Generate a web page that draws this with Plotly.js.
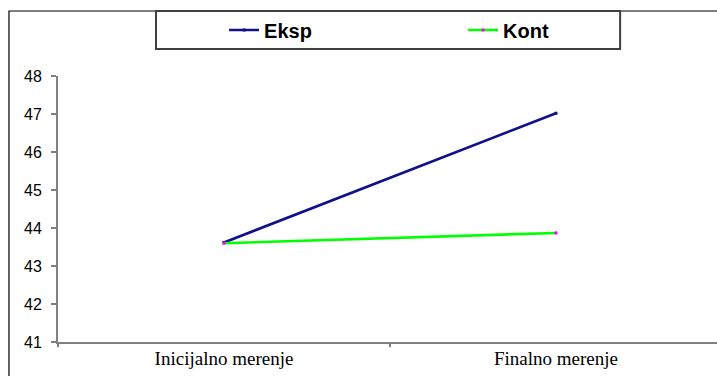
<!DOCTYPE html>
<html>
<head>
<meta charset="utf-8">
<script src="https://cdn.plot.ly/plotly-3.0.1.min.js"></script>
<style>html,body{margin:0;padding:0;background:#fff;}#chart{width:717px;height:376px;}</style>
</head>
<body>
<div id="chart"></div>
<script>
var categories = ["Inicijalno merenje", "Finalno merenje"];
var seriesNames = ["Eksp", "Kont"];
var eksp = [43.62, 47.02];
var kont = [43.6, 43.87];
var yTicks = [41, 42, 43, 44, 45, 46, 47, 48];

var traces = [
  {x: categories, y: eksp, name: seriesNames[0], type: "scatter", mode: "lines+markers",
   line: {color: "#10108a", width: 2.6}, marker: {color: "#10108a", size: 3, symbol: "square"}},
  {x: categories, y: kont, name: seriesNames[1], type: "scatter", mode: "lines+markers",
   line: {color: "#00ff00", width: 2.6}, marker: {color: "#ff00ff", size: 3, symbol: "square"}}
];

var layout = {
  width: 717, height: 376,
  margin: {l: 58, r: 0, t: 76, b: 34},
  paper_bgcolor: "#fff", plot_bgcolor: "#fff",
  showlegend: true,
  legend: {orientation: "h", x: 0.252, xanchor: "left", y: 1.173, yanchor: "middle",
           font: {family: "Liberation Sans, Arial", size: 20, color: "#000", weight: "bold"},
           bgcolor: "rgba(0,0,0,0)", borderwidth: 0, entrywidth: 194, entrywidthmode: "pixels"},
  xaxis: {type: "category", range: [-0.5, 1.485], tickson: "boundaries", ticks: "outside",
          ticklen: 3, tickcolor: "#808080", tickwidth: 2, showline: true, linecolor: "#808080",
          linewidth: 2, showgrid: false, zeroline: false, fixedrange: true, ticklabelstandoff: -2,
          tickfont: {family: "Liberation Serif, Times New Roman", size: 19, color: "#000"}},
  yaxis: {range: [41, 48], tickvals: yTicks, ticks: "outside", ticklen: 5, tickcolor: "#808080",
          tickwidth: 2, showline: true, linecolor: "#808080", linewidth: 2, showgrid: false,
          zeroline: false, ticklabelstandoff: 6,
          tickfont: {family: "Liberation Sans, Arial", size: 16, color: "#000"}},
  shapes: [
    {type: "rect", xref: "paper", yref: "paper", x0: -0.0744, x1: 1.2, y0: -0.3, y1: 1.2444,
     line: {color: "#000", width: 1.2}, fillcolor: "rgba(0,0,0,0)", layer: "below"},
    {type: "rect", xref: "paper", yref: "paper", x0: 0.1487, x1: 0.853, y0: 1.1015, y1: 1.2444,
     line: {color: "#404040", width: 2}, fillcolor: "rgba(0,0,0,0)", layer: "below"}
  ]
};

Plotly.newPlot("chart", traces, layout, {displayModeBar: false, staticPlot: true});
</script>
</body>
</html>
